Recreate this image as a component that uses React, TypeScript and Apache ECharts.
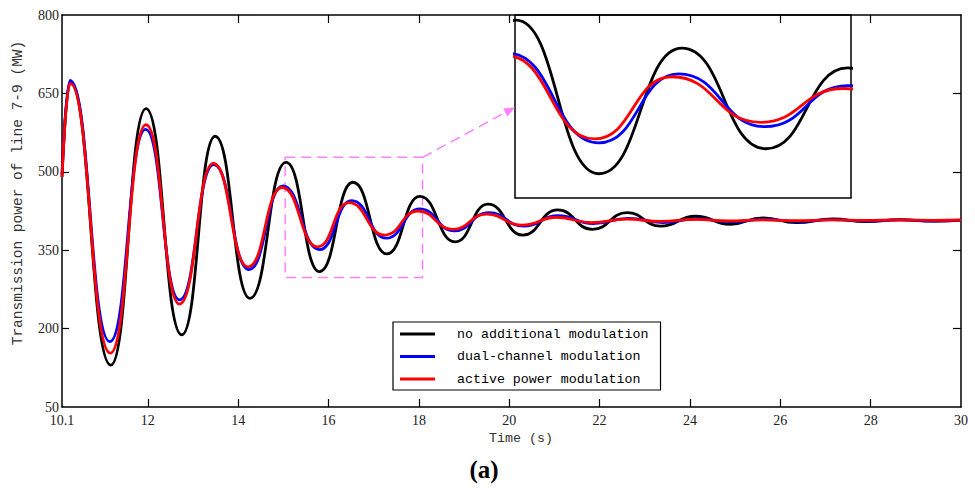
import React, { useEffect, useRef } from "react";
import * as echarts from "echarts";

// ---- data (time in s, power in MW) ----
const seriesNames = [
  "no additional modulation",
  "dual-channel modulation",
  "active power modulation",
];
const seriesColors = ["#000000", "#0000ff", "#ff0000"];

const tBlack = [10.1, 10.28, 11.18, 11.96, 12.75, 13.49, 14.26, 15.06, 15.8, 16.54, 17.29, 18.02, 18.8, 19.53, 20.3, 21.07, 21.84, 22.61, 23.35, 24.12, 24.89, 25.62, 26.35, 27.16, 27.9, 28.65, 29.4, 30];
const pBlack = [490, 672, 130, 621, 188, 568, 258, 518, 309, 480, 343, 453, 366, 438, 379, 427, 390, 422, 396, 415, 399.5, 412, 402.6, 410, 404.5, 408.5, 405.5, 407.5];

const tBlue = [10.1, 10.28, 11.16, 11.95, 12.7, 13.46, 14.24, 14.99, 15.8, 16.51, 17.28, 18.02, 18.78, 19.55, 20.32, 21.08, 21.86, 22.63, 23.4, 24.15, 24.9, 25.65, 26.4, 27.15, 27.9, 28.65, 29.4, 30];
const pBlue = [495, 675, 175, 581, 255, 514, 313, 473, 351, 445, 373, 429, 387, 422, 396, 416, 401, 411, 403, 410, 404.5, 409, 405, 408.5, 405.5, 408, 405.5, 407];

const tRed = [10.1, 10.28, 11.17, 11.96, 12.7, 13.45, 14.22, 14.97, 15.76, 16.45, 17.24, 17.98, 18.75, 19.5, 20.28, 21.05, 21.82, 22.6, 23.35, 24.1, 24.85, 25.6, 26.35, 27.1, 27.9, 28.6, 29.4, 30];
const pRed = [490, 669, 153, 590, 247, 516, 318, 470, 356.5, 441, 379, 425, 390, 419, 398, 413, 402.6, 409.5, 405, 409, 406, 408, 406.5, 408, 407, 407.8, 407.2, 407.8];

const xTickLabels = [10.1, 12, 14, 16, 18, 20, 22, 24, 26, 28, 30];
const xTicks = [12, 14, 16, 18, 20, 22, 24, 26, 28];
const yTickLabels = [50, 200, 350, 500, 650, 800];
const yTicks = [200, 350, 500, 650];

const xRange = [10.1, 30];
const yRange = [50, 800];
const zoomX = [15.05, 18.05];
const zoomY = [276, 525];
const zoomBox = [15.04, 528, 18.08, 298];

const zip = (t: number[], p: number[]) => t.map((v, i) => [v, p[i]]);

export default function App() {
  const ref = useRef<HTMLDivElement>(null);
  useEffect(() => {
    document.body.style.margin = "0";
    const chart = echarts.init(ref.current!, null, { renderer: "svg" });
    const datas = [zip(tBlack, pBlack), zip(tBlue, pBlue), zip(tRed, pRed)];
    const tickFont = { fontFamily: "Liberation Serif", fontSize: 14, color: "#222" };
    const axisLine = { show: true, lineStyle: { color: "#000", width: 1.5 } };
    const lw = 2.8;

    const mainSeries = datas.map((d, i) => ({
      name: seriesNames[i],
      type: "line",
      xAxisIndex: 0,
      yAxisIndex: 0,
      data: d,
      symbol: "none",
      smooth: 0.5,
      smoothMonotone: "x",
      lineStyle: { color: seriesColors[i], width: lw },
      itemStyle: { color: seriesColors[i] },
      z: 2 + i,
      ...(i === 0
        ? {
            markArea: {
              silent: true,
              itemStyle: {
                color: "rgba(0,0,0,0)",
                borderColor: "#ff80ff",
                borderWidth: 1.5,
                borderType: [10, 6],
              },
              data: [[{ xAxis: zoomBox[0], yAxis: zoomBox[1] }, { xAxis: zoomBox[2], yAxis: zoomBox[3] }]],
            },
          }
        : {}),
    }));
    const insetSeries = datas.map((d, i) => ({
      name: seriesNames[i],
      type: "line",
      xAxisIndex: 2,
      yAxisIndex: 2,
      data: d,
      symbol: "none",
      smooth: 0.5,
      smoothMonotone: "x",
      lineStyle: { color: seriesColors[i], width: lw },
      itemStyle: { color: seriesColors[i] },
      z: 2 + i,
    }));

    chart.setOption({
      animation: false,
      backgroundColor: "#fff",
      grid: [
        { left: 62, top: 15, right: 14, bottom: 81, show: false },
        {
          left: 515,
          top: 15,
          width: 336,
          height: 183,
          show: true,
          borderColor: "#000",
          borderWidth: 1.5,
          backgroundColor: "rgba(0,0,0,0)",
        },
      ],
      xAxis: [
        {
          type: "value",
          gridIndex: 0,
          position: "bottom",
          min: xRange[0],
          max: xRange[1],
          axisLine,
          axisTick: { show: true, inside: true, length: 8, customValues: xTicks, lineStyle: { color: "#000", width: 1.2 } },
          axisLabel: { ...tickFont, margin: 6, customValues: xTickLabels, formatter: (v: number) => String(v) },
          splitLine: { show: false },
        },
        {
          type: "value",
          gridIndex: 0,
          position: "top",
          min: xRange[0],
          max: xRange[1],
          axisLine,
          axisTick: { show: true, inside: true, length: 8, customValues: xTicks, lineStyle: { color: "#000", width: 1.2 } },
          axisLabel: { show: false },
          splitLine: { show: false },
        },
        {
          type: "value",
          gridIndex: 1,
          min: zoomX[0],
          max: zoomX[1],
          show: false,
        },
      ],
      yAxis: [
        {
          type: "value",
          gridIndex: 0,
          position: "left",
          min: yRange[0],
          max: yRange[1],
          axisLine,
          axisTick: { show: true, inside: true, length: 7, customValues: yTicks, lineStyle: { color: "#000", width: 1.2 } },
          axisLabel: { ...tickFont, margin: 3, customValues: yTickLabels },
          splitLine: { show: false },
        },
        {
          type: "value",
          gridIndex: 0,
          position: "right",
          min: yRange[0],
          max: yRange[1],
          axisLine,
          axisTick: { show: true, inside: true, length: 8, customValues: yTicks, lineStyle: { color: "#000", width: 1.2 } },
          axisLabel: { show: false },
          splitLine: { show: false },
        },
        {
          type: "value",
          gridIndex: 1,
          min: zoomY[0],
          max: zoomY[1],
          show: false,
        },
      ],
      legend: {
        left: 393,
        top: 322,
        orient: "vertical",
        icon: "rect",
        itemWidth: 35,
        itemHeight: 3,
        itemGap: 8.5,
        padding: [5, 12, 4, 7],
        borderColor: "#000",
        borderWidth: 1.2,
        backgroundColor: "#fff",
        selectedMode: false,
        textStyle: {
          fontFamily: "Liberation Mono",
          fontSize: 13.3,
          color: "#000",
          lineHeight: 14,
          padding: [0, 0, 0, 17],
        },
        data: seriesNames,
        z: 10,
      },
      graphic: [
        {
          type: "text",
          x: 18,
          y: 193,
          rotation: Math.PI / 2,
          style: {
            text: "Transmission power of line 7-9 (MW)",
            font: "14.5px 'Liberation Mono'",
            fill: "#333",
            align: "center",
            verticalAlign: "middle",
          },
        },
        {
          type: "text",
          x: 521,
          y: 438,
          style: {
            text: "Time (s)",
            font: "13.3px 'Liberation Mono'",
            fill: "#333",
            align: "center",
            verticalAlign: "middle",
          },
        },
        {
          type: "text",
          x: 484,
          y: 469,
          style: {
            text: "(a)",
            font: "bold 25px 'Liberation Serif'",
            fill: "#000",
            align: "center",
            verticalAlign: "middle",
          },
        },
        {
          type: "line",
          shape: { x1: 422.7, y1: 157.3, x2: 505.3, y2: 112.5 },
          style: { stroke: "#ff80ff", lineWidth: 1.5, lineDash: [10, 6] },
          z: 20,
        },
        {
          type: "polygon",
          shape: { points: [[515, 107.3], [507.4, 116.5], [503.2, 108.5]] },
          style: { fill: "#ff80ff" },
          z: 20,
        },
      ],
      series: [...mainSeries, ...insetSeries],
    });
    return () => chart.dispose();
  }, []);
  return <div ref={ref} style={{ width: 975, height: 488 }} />;
}
